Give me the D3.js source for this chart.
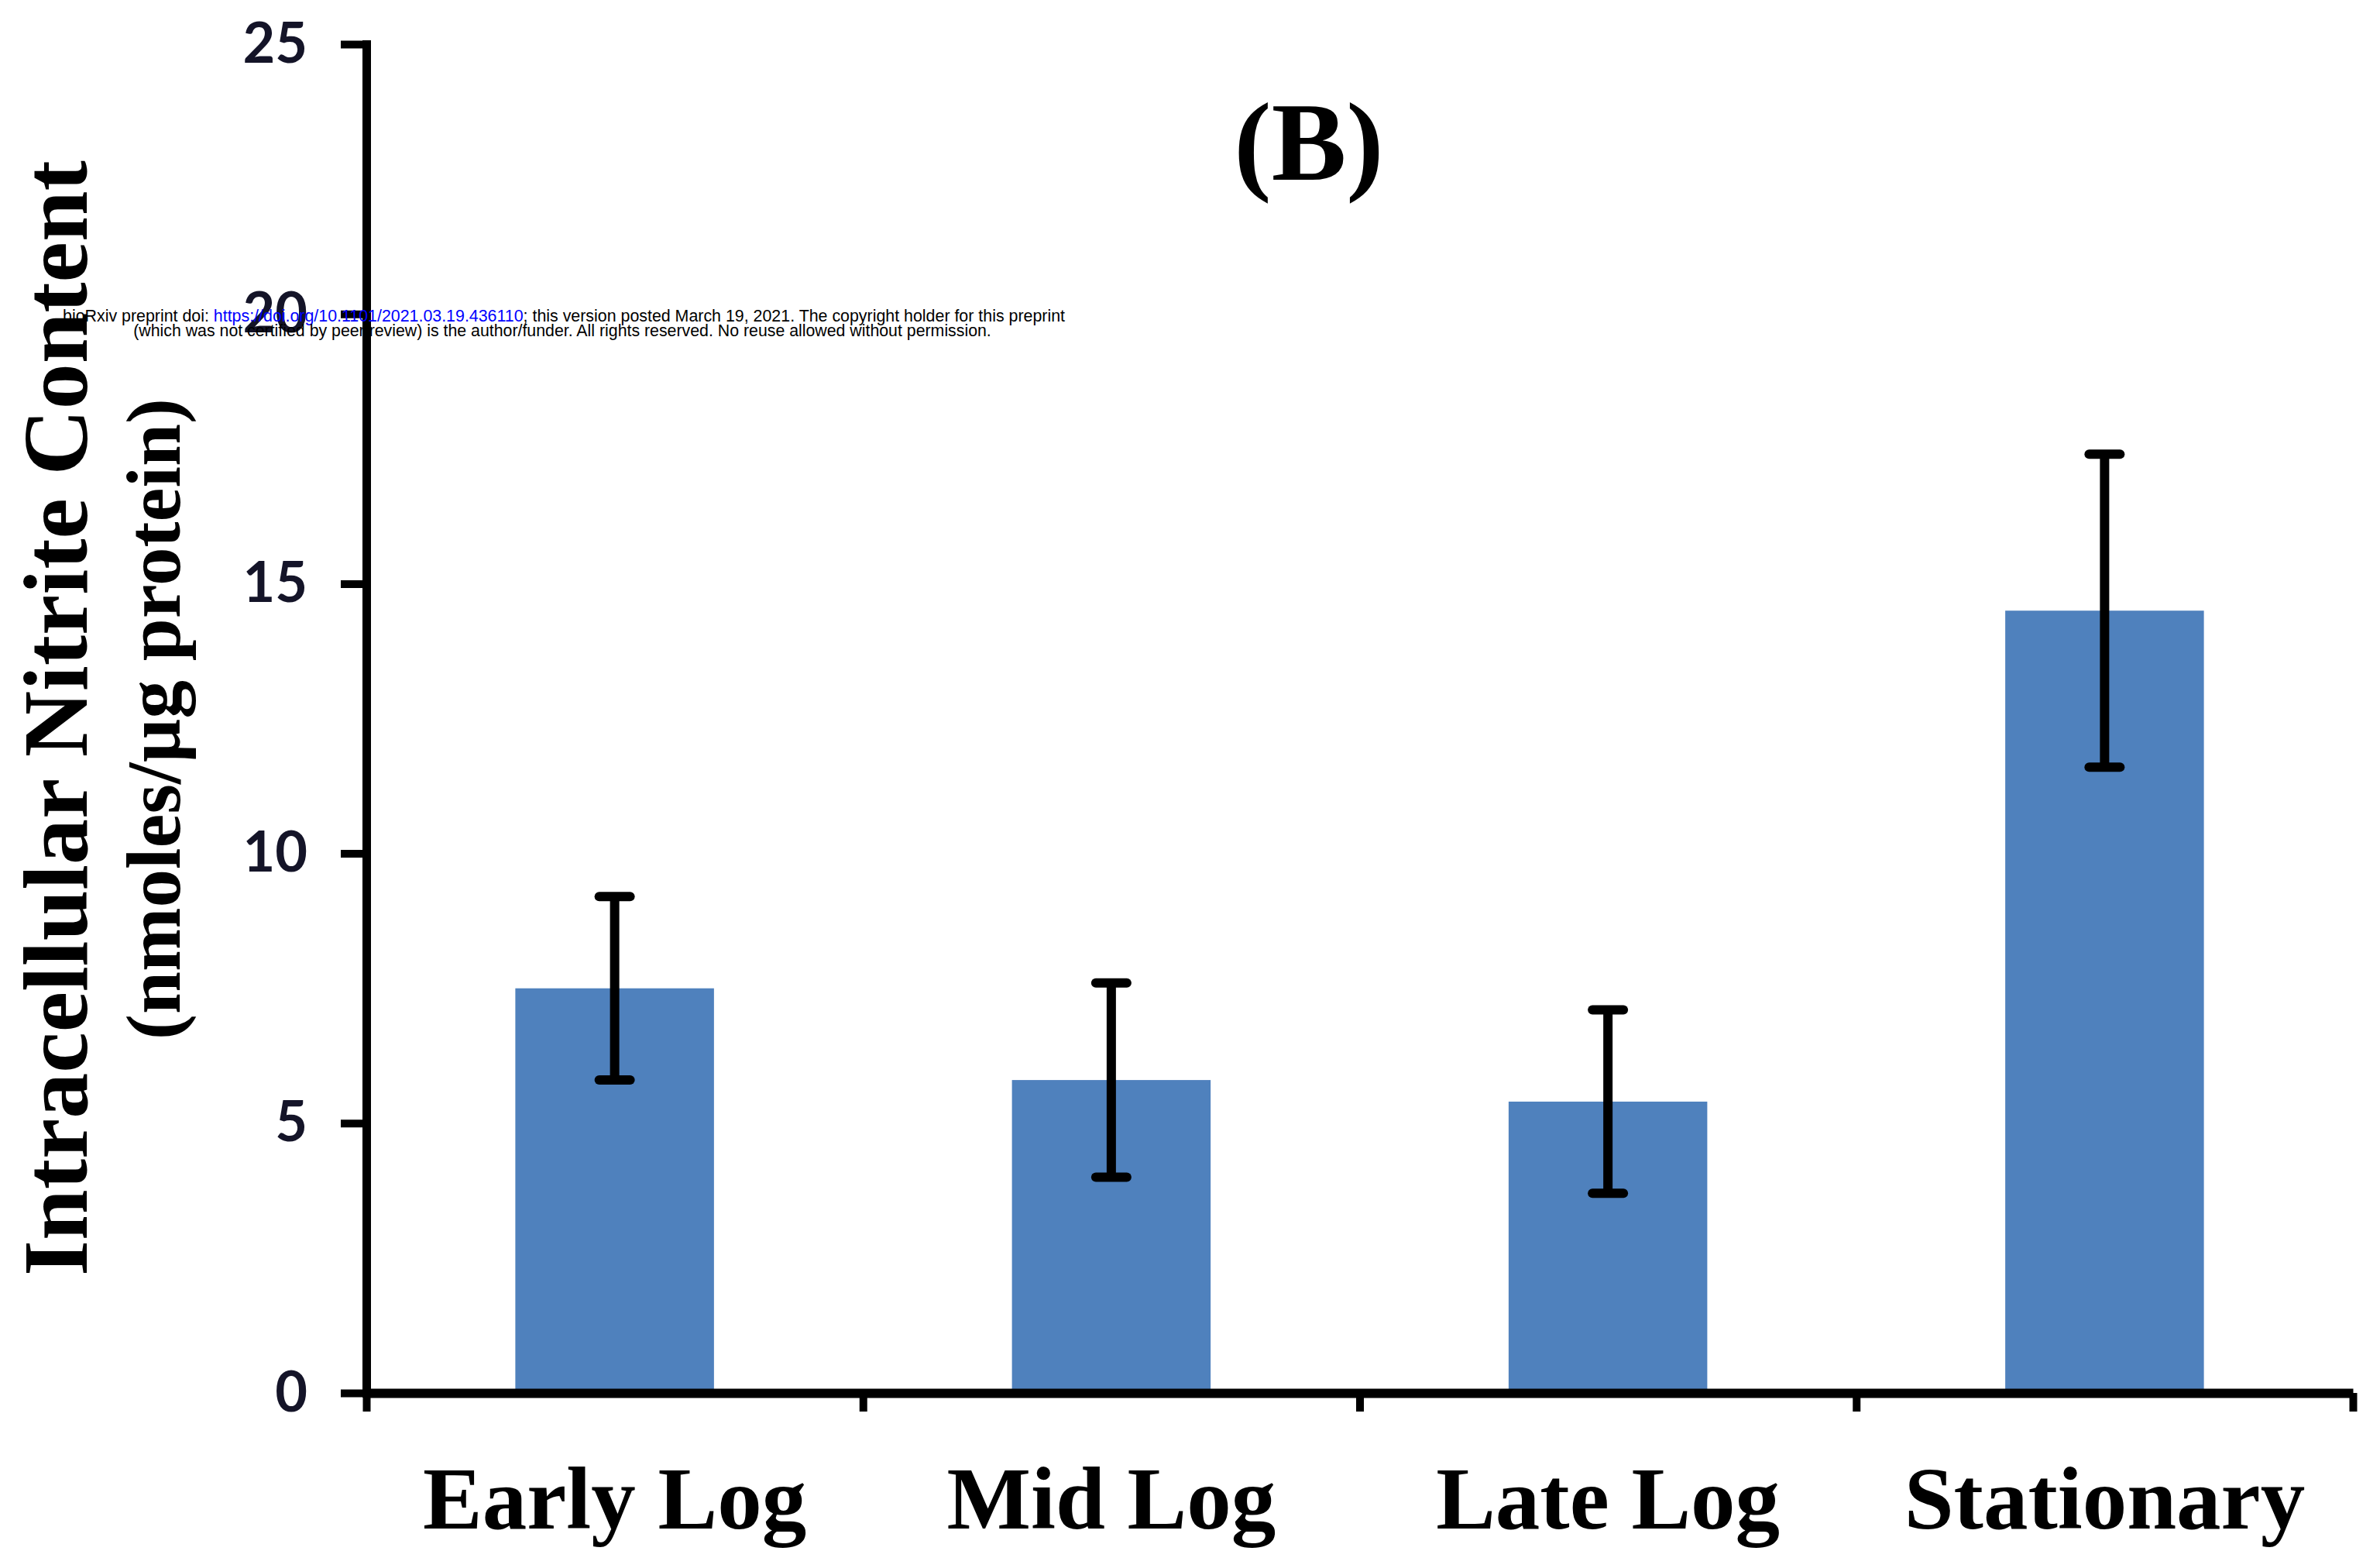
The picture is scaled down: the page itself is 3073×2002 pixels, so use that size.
<!DOCTYPE html>
<html>
<head>
<meta charset="utf-8">
<script src="https://cdn.jsdelivr.net/npm/d3@7"></script>
<style>
  body { margin: 0; background: #fff; }
</style>
</head>
<body>
<script>
var width = 3073;
var height = 2002;

var categories = ["Early Log", "Mid Log", "Late Log", "Stationary"];
var means = [7.5, 5.8, 5.4, 14.5];
var errors = [1.7, 1.8, 1.7, 2.9];
var yTicks = [0, 5, 10, 15, 20, 25];
var boundaries = [0, 1, 2, 3, 4];

var serif = "'Liberation Serif', 'Times New Roman', serif";

var svg = d3.select("body")
    .append("svg")
    .attr("width", width)
    .attr("height", height)

var plot = { left: 473, right: 3038, top: 57, bottom: 1798 }

var xScale = d3.scaleBand()
    .domain(categories)
    .range([plot.left, plot.right])
    .paddingInner(0.6)
    .paddingOuter(0.3)
var yScale = d3.scaleLinear()
    .domain([0, 25])
    .range([plot.bottom, plot.top])
// category boundaries, where the x ticks sit
var bScale = d3.scaleLinear()
    .domain([0, 4])
    .range([plot.left, plot.right])

// bars
svg.selectAll(".bar")
    .data(means)
    .enter()
    .append("rect")
    .attr("class", "bar")
    .attr("x", function (d, i) { return xScale(categories[i]) })
    .attr("y", function (d) { return yScale(d) })
    .attr("width", xScale.bandwidth())
    .attr("height", function (d) { return yScale(0) - yScale(d) })
    .attr("fill", "#4f81bd")

// y axis
var yAxis = d3.axisLeft(yScale)
    .tickValues(yTicks)
    .tickSize(33)
    .tickSizeOuter(0)
    .tickPadding(43)
var gy = svg.append("g")
    .attr("transform", "translate(" + plot.left + ",0)")
    .call(yAxis)
gy.select(".domain").attr("stroke", "#000").attr("stroke-width", 11).attr("stroke-linecap", "square")
gy.selectAll(".tick line").attr("stroke", "#000").attr("stroke-width", 10)
gy.selectAll(".tick text")
    .attr("font-family", "Lato, 'Open Sans', sans-serif")
    .attr("font-weight", 700)
    .attr("font-size", 72)
    .attr("fill", "#141428")

// x axis line with ticks between categories
var xLine = d3.axisBottom(bScale)
    .tickValues(boundaries)
    .tickSize(24)
    .tickSizeOuter(0)
    .tickFormat("")
var gx = svg.append("g")
    .attr("transform", "translate(0," + plot.bottom + ")")
    .call(xLine)
gx.select(".domain").attr("stroke", "#000").attr("stroke-width", 12)
gx.selectAll(".tick line").attr("stroke", "#000").attr("stroke-width", 10)

// category labels
var xAxis = d3.axisBottom(xScale).tickSize(0).tickPadding(93)
var gl = svg.append("g")
    .attr("transform", "translate(0," + plot.bottom + ")")
    .call(xAxis)
gl.select(".domain").remove()
gl.selectAll(".tick text")
    .attr("font-family", serif)
    .attr("font-weight", "bold")
    .attr("font-size", 115)
    .attr("fill", "#000")

// error bars
var err = svg.selectAll(".err")
    .data(means)
    .enter()
    .append("g")
    .attr("class", "err")
    .attr("transform", function (d, i) {
        return "translate(" + (xScale(categories[i]) + xScale.bandwidth() / 2) + ",0)"
    })
err.append("line")
    .attr("y1", function (d, i) { return yScale(d - errors[i]) })
    .attr("y2", function (d, i) { return yScale(d + errors[i]) })
    .attr("stroke", "#000").attr("stroke-width", 12)
err.selectAll(".cap")
    .data(function (d, i) { return [d - errors[i], d + errors[i]] })
    .enter()
    .append("line")
    .attr("class", "cap")
    .attr("x1", -20).attr("x2", 20)
    .attr("y1", function (v) { return yScale(v) })
    .attr("y2", function (v) { return yScale(v) })
    .attr("stroke", "#000").attr("stroke-width", 12)
    .attr("stroke-linecap", "round")

// panel letter
svg.append("text")
    .attr("x", 1690).attr("y", 232)
    .attr("text-anchor", "middle")
    .attr("font-family", serif)
    .attr("font-weight", "bold")
    .attr("font-size", 145)
    .text("(B)")

// y title, two lines
svg.append("text")
    .attr("transform", "translate(112,927) rotate(-90)")
    .attr("text-anchor", "middle")
    .attr("font-family", serif)
    .attr("font-weight", "bold")
    .attr("font-size", 118)
    .text("Intracellular Nitrite Content")
svg.append("text")
    .attr("transform", "translate(232,928) rotate(-90)")
    .attr("text-anchor", "middle")
    .attr("font-family", serif)
    .attr("font-weight", "bold")
    .attr("font-size", 99)
    .text("(nmoles/µg protein)")

// preprint stamp
var stamp1 = svg.append("text")
    .attr("x", 728).attr("y", 415)
    .attr("text-anchor", "middle")
    .attr("font-family", "'Liberation Sans', Arial, sans-serif")
    .attr("font-size", 20)
stamp1.append("tspan").text("bioRxiv preprint doi: ")
stamp1.append("tspan").attr("fill", "#0000ff").text("https://doi.org/10.1101/2021.03.19.436110")
stamp1.append("tspan").text("; this version posted March 19, 2021. The copyright holder for this preprint")
var stamp2 = svg.append("text")
    .attr("x", 726).attr("y", 434)
    .attr("text-anchor", "middle")
    .attr("font-family", "'Liberation Sans', Arial, sans-serif")
    .attr("font-size", 20)
    .text("(which was not certified by peer review) is the author/funder. All rights reserved. No reuse allowed without permission.")

// fit stamp widths to the picture
var w1 = stamp1.node().getComputedTextLength()
stamp1.attr("font-size", 20 * 1295 / w1)
var w2 = stamp2.node().getComputedTextLength()
stamp2.attr("font-size", 20 * 1108 / w2)
</script>
</body>
</html>
